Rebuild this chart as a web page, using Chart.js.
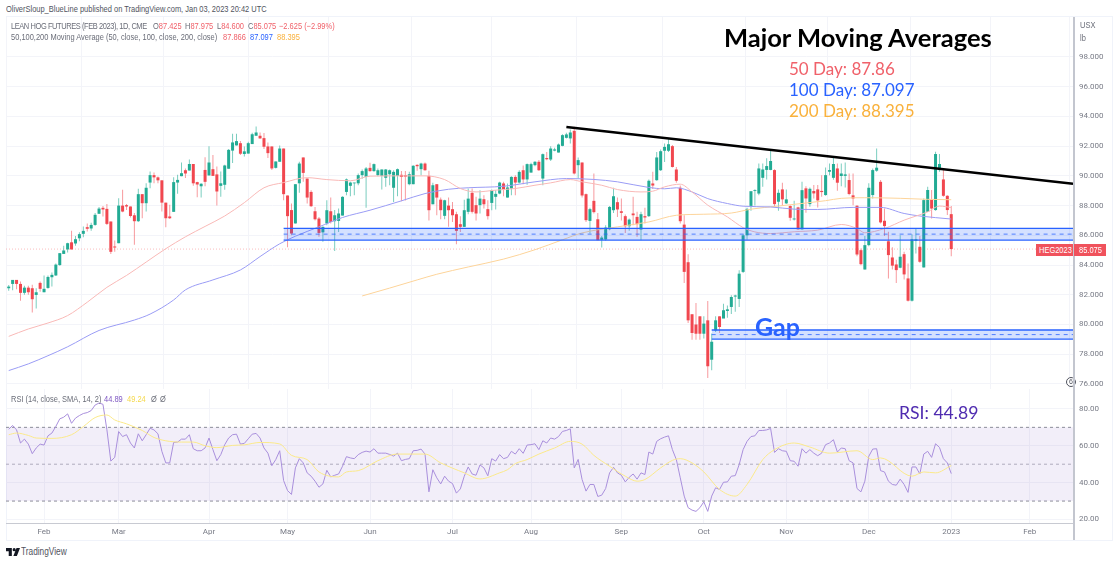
<!DOCTYPE html>
<html>
<head>
<meta charset="utf-8">
<script src="https://cdn.jsdelivr.net/npm/chart.js@4/dist/chart.umd.js"></script>
<style>
  html, body { margin: 0; padding: 0; background: #fff; }
  body { width: 1120px; height: 563px; position: relative; overflow: hidden; font-family: "Liberation Sans", sans-serif; }
  canvas { position: absolute; display: block; }
  .t { position: absolute; white-space: nowrap; line-height: 1; }
  .hdr { font-size: 9px; color: #6a6d78; transform: scaleX(0.83); transform-origin: left center; }
  .ann { font-family: Lato, sans-serif; }
  .red { color: #f0616a; } .blue { color: #2962ff; } .org { color: #f9b13c; }
  .frame { position: absolute; background: #f0f3fa; }
  .tag { position: absolute; background: #f0525c; top: 244px; height: 12px; }
</style>
</head>
<body>
<div class="frame" style="left:6px;top:16px;width:1107px;height:1px"></div>
<div class="frame" style="left:6px;top:540px;width:1107px;height:1px"></div>
<div class="frame" style="left:6px;top:16px;width:1px;height:525px"></div>
<div class="frame" style="left:1112px;top:16px;width:1px;height:525px"></div>
<canvas id="priceChart" width="1106" height="372" style="left:6px;top:17px"></canvas>
<canvas id="rsiChart" width="1106" height="151" style="left:6px;top:389px"></canvas>
<div class="t" style="left:1066px;top:377px;width:8px;height:8px;border:1px solid #50535e;border-radius:50%;background:#fff;color:#50535e;font-size:7px;line-height:8px;text-align:center">6</div>
<div style="position:absolute;left:1073px;top:17px;width:1.5px;height:523px;background:#c3c6cf"></div>

<div class="t hdr" style="left:6px;top:5px;color:#50535e">OliverSloup_BlueLine published on TradingView.com, Jan 03, 2023 20:42 UTC</div>
<div class="t hdr" style="left:11px;top:22px;letter-spacing:-0.5px">LEAN HOG FUTURES (FEB 2023), 1D, CME</div>
<div class="t hdr" style="left:153px;top:22px">O<span class="red">87.425</span></div>
<div class="t hdr" style="left:185px;top:22px">H<span class="red">87.975</span></div>
<div class="t hdr" style="left:217px;top:22px">L<span class="red">84.600</span></div>
<div class="t hdr" style="left:248px;top:22px">C<span class="red">85.075</span></div>
<div class="t hdr red" style="left:279px;top:22px">−2.625 (−2.99%)</div>
<div class="t hdr" style="left:11px;top:33px">50,100,200 Moving Average (50, close, 100, close, 200, close)</div>
<div class="t hdr red" style="left:223px;top:33px">87.866</div>
<div class="t hdr blue" style="left:250px;top:33px">87.097</div>
<div class="t hdr org" style="left:277px;top:33px">88.395</div>
<div class="t hdr" style="left:11px;top:395px">RSI (14, close, SMA, 14, 2)</div>
<div class="t hdr" style="left:104px;top:395px;color:#7e57c2">44.89</div>
<div class="t hdr" style="left:127px;top:395px;color:#f5d94e">49.24</div>
<div class="t hdr" style="left:151px;top:395px">Ø</div>
<div class="t hdr" style="left:160px;top:395px">Ø</div>
<div class="t hdr" style="left:1080px;top:21px">USX</div>
<div class="t hdr" style="left:1080px;top:34px">lb</div>

<div class="t ann" style="left:724px;top:25px;font-size:25.5px;font-weight:700;color:#000">Major Moving Averages</div>
<div class="t ann red" style="left:789px;top:60px;font-size:17px">50 Day: 87.86</div>
<div class="t ann blue" style="left:789px;top:81px;font-size:17px">100 Day: 87.097</div>
<div class="t ann org" style="left:789px;top:102px;font-size:17px">200 Day: 88.395</div>
<div class="t ann blue" style="left:755px;top:314px;font-size:25px;font-weight:700">Gap</div>
<div class="t ann" style="left:899px;top:404px;font-size:17.6px;color:#4f2bb0">RSI: 44.89</div>

<div class="tag" style="left:1036px;width:37px"></div>
<div class="tag" style="left:1074px;width:32px"></div>
<div class="t hdr" style="left:1039px;top:246px;color:#fff">HEG2023</div>
<div class="t hdr" style="left:1079px;top:246px;color:#fff">85.075</div>

<svg style="position:absolute;left:6px;top:548px" width="14" height="8" viewBox="0 0 36 20"><path fill="#131722" d="M0 0h15v20H7V8H0zM21 0a4 4 0 1 1 0 8 4 4 0 0 1 0-8M27 0h9l-8 20h-9z"/></svg>
<div class="t hdr" style="left:21px;top:547px;font-size:10px;color:#50535e">TradingView</div>

<script>
// Daily candles, bar 0 sits just after the left edge, bar 240 is Jan 03
const opens = [
  82.44,82.73,83.0,82.73,82.13,82.48,82.44,81.99,82.8,82.17,
  82.46,83.18,83.3,84.0,84.75,85.05,85.53,85.45,85.8,86.1,
  86.55,86.46,86.7,87.45,87.85,87.78,86.93,85.25,85.47,88.0,
  88.03,87.94,87.35,86.95,88.77,88.16,89.55,90.05,89.9,89.7,
  88.2,87.27,87.58,89.55,89.98,90.38,90.36,90.8,89.58,89.3,
  90.4,90.03,90.45,90.1,89.33,89.4,90.48,91.7,92.05,92.2,
  91.47,91.5,92.14,92.7,92.7,92.54,91.98,91.98,90.54,90.95,
  91.84,88.68,87.7,86.8,89.5,91.24,89.82,88.92,87.62,87.13,
  86.2,86.8,87.62,86.95,86.97,87.33,88.92,89.33,89.5,89.5,
  90.05,89.93,90.54,90.32,90.05,90.0,89.87,90.11,89.2,90.0,
  90.07,90.05,89.44,89.44,90.74,90.45,90.83,90.0,88.09,89.44,
  88.4,87.31,88.0,87.76,87.42,86.75,86.57,87.58,88.86,88.03,
  88.03,88.43,87.76,88.18,88.59,88.81,89.49,88.54,89.15,89.93,
  89.55,90.38,89.76,90.22,90.72,90.95,89.82,91.2,91.1,91.7,
  91.57,92.02,92.56,92.52,93.03,90.72,90.9,88.77,86.97,88.32,
  87.08,85.7,85.72,86.41,87.69,88.23,87.62,87.29,86.61,87.47,
  87.24,86.39,87.29,87.29,89.49,89.71,90.38,91.69,91.69,92.0,
  90.43,89.2,86.72,84.19,80.69,80.0,80.55,79.38,80.28,77.63,
  79.6,80.55,80.4,80.91,81.18,81.88,81.72,83.54,86.0,87.98,
  88.98,88.81,89.87,90.4,90.4,90.39,88.26,89.09,88.15,87.97,
  87.07,87.88,86.4,89.16,88.1,88.98,89.09,88.99,88.71,90.28,
  89.87,90.5,89.99,90.0,89.72,88.69,87.99,85.0,83.7,85.34,
  88.71,90.35,89.6,86.98,85.6,84.51,84.04,83.82,84.73,83.1,
  81.6,85.63,85.23,83.84,87.58,88.4,87.7,90.39,89.76,88.66,
  87.425
];
const highs = [
  82.65,83.0,83.0,82.9,82.6,82.6,82.67,82.44,82.9,83.3,
  83.3,83.5,84.1,84.8,85.3,85.5,86.3,85.96,86.2,86.6,
  86.8,86.85,87.5,87.9,87.98,88.1,86.93,85.65,88.5,89.06,
  88.1,87.94,87.5,89.13,88.77,89.5,90.3,90.23,89.96,89.7,
  88.2,88.05,89.9,90.07,90.9,90.5,91.1,90.8,89.6,89.5,
  91.26,92.0,91.4,90.63,90.3,90.75,91.8,92.83,92.83,92.34,
  91.98,92.3,92.9,93.33,92.92,92.88,92.25,91.98,90.97,92.05,
  91.84,88.68,88.14,89.44,90.95,91.24,89.82,89.04,87.9,87.24,
  86.6,88.36,88.54,87.7,87.8,88.63,89.82,89.6,89.53,90.16,
  90.43,90.6,90.88,90.83,90.5,90.43,90.47,90.43,90.38,90.5,
  90.32,90.32,90.27,90.72,90.79,90.88,90.9,90.34,89.53,89.44,
  88.54,88.4,88.54,88.25,87.58,87.29,88.4,89.15,89.15,88.59,
  89.04,88.7,88.36,89.08,89.04,89.6,89.6,89.49,89.98,90.05,
  90.38,90.7,90.83,90.88,90.99,91.06,91.5,91.6,92.0,91.9,
  92.18,92.8,92.9,93.12,93.3,91.24,90.9,88.81,87.85,90.16,
  87.51,85.95,86.68,87.98,89.2,88.54,88.47,87.4,87.13,88.59,
  87.58,87.58,87.85,89.76,90.27,91.6,91.77,92.18,92.5,92.07,
  90.6,89.36,87.35,84.73,80.69,81.45,80.55,80.55,81.58,79.4,
  80.55,80.55,81.4,81.27,81.97,82.0,83.65,86.07,87.85,88.05,
  89.1,90.83,90.84,91.18,91.78,90.44,89.09,89.54,89.09,88.02,
  88.33,87.92,89.6,89.31,89.22,89.38,89.38,90.05,90.57,90.84,
  91.33,90.84,90.84,90.9,90.16,90.16,88.03,85.12,85.95,89.5,
  90.5,91.85,89.72,87.8,86.24,85.2,84.35,86.0,84.89,84.1,
  86.08,86.47,85.95,88.48,89.27,89.05,91.63,91.47,90.44,88.7,
  87.975
];
const lows = [
  82.27,82.3,82.37,81.6,82.0,82.0,80.8,81.07,82.2,82.17,
  82.4,82.55,83.27,83.95,84.75,84.85,85.05,85.3,85.6,85.87,
  86.25,86.3,86.65,87.45,87.27,86.7,84.75,84.9,85.47,87.55,
  87.7,87.2,85.36,86.9,87.15,87.6,89.17,89.5,89.5,87.6,
  86.55,87.1,87.58,88.8,89.98,89.85,90.36,89.33,88.57,88.55,
  89.3,90.03,90.0,88.0,88.6,89.06,90.48,90.86,92.05,91.4,
  91.3,91.5,92.14,92.7,92.5,91.8,91.2,90.4,90.5,90.95,
  88.36,85.2,86.0,86.8,88.86,89.6,88.14,87.9,87.0,85.9,
  85.56,86.68,86.8,84.95,86.23,87.33,88.7,88.63,88.7,89.37,
  89.8,87.85,90.27,90.27,89.98,89.08,89.26,89.37,88.25,88.63,
  88.3,88.35,89.37,89.44,90.34,90.05,90.34,87.0,88.09,87.35,
  87.08,87.08,86.57,86.9,85.4,86.23,86.57,87.42,87.47,87.0,
  87.47,87.8,87.06,87.69,87.73,88.77,88.63,88.54,88.7,88.7,
  89.49,89.44,89.4,90.22,90.65,90.32,89.37,91.05,91.0,91.65,
  91.57,92.0,92.52,92.18,90.1,89.82,88.54,86.9,86.12,87.47,
  85.67,85.18,85.64,86.34,87.5,87.24,87.0,86.16,86.3,86.68,
  85.9,85.67,86.8,87.24,89.12,89.67,90.33,90.94,91.6,90.56,
  89.53,86.8,82.8,80.1,78.98,78.98,78.98,79.05,76.4,76.92,
  79.5,79.43,80.85,80.45,80.7,80.85,81.18,83.47,85.7,87.65,
  88.0,88.7,89.27,89.76,90.38,87.97,87.65,87.97,88.1,86.98,
  87.0,86.4,86.4,87.52,87.92,88.48,87.88,88.6,88.66,90.05,
  89.74,89.0,89.3,89.22,88.7,88.03,84.6,83.99,83.7,85.27,
  88.48,90.28,86.8,85.95,83.1,83.7,82.8,83.78,83.03,81.55,
  81.55,84.78,84.15,83.84,87.58,87.14,87.65,90.28,88.6,87.36,
  84.6
];
const closes = [
  82.55,83.0,82.73,82.13,82.48,82.17,81.7,82.17,82.4,82.4,
  83.2,83.34,84.03,84.8,84.98,85.47,85.05,85.74,86.08,86.3,
  86.44,86.7,87.38,87.8,87.74,86.77,84.89,85.18,88.0,87.6,
  87.94,87.3,86.95,88.77,88.16,89.2,90.05,89.9,89.7,88.2,
  87.15,87.15,89.58,89.73,90.18,90.16,90.8,89.5,89.42,89.47,
  89.6,90.9,90.0,88.95,89.5,90.7,91.75,92.25,92.34,91.49,
  91.65,92.2,92.8,92.92,92.52,91.96,91.53,90.5,90.97,91.84,
  88.77,87.29,86.12,89.44,90.83,90.2,88.54,87.96,87.08,86.16,
  86.57,87.69,86.9,87.35,87.47,88.59,89.76,89.55,89.55,90.05,
  90.32,90.5,90.32,90.79,90.38,90.43,90.43,90.38,90.27,90.45,
  89.93,89.95,90.11,90.68,90.65,90.83,90.38,87.69,89.37,88.54,
  87.69,88.36,87.69,87.35,86.3,86.57,87.69,88.47,87.58,87.47,
  88.47,88.09,87.29,89.04,88.79,89.55,89.08,89.22,89.93,89.55,
  90.27,89.76,90.79,90.79,90.95,90.38,91.46,91.12,91.84,91.78,
  92.11,92.74,92.79,92.92,90.16,91.06,88.68,87.02,87.76,87.56,
  85.67,85.85,86.52,87.91,88.63,87.74,87.51,86.61,87.06,87.35,
  86.75,87.42,87.2,89.67,89.35,91.24,91.66,91.95,92.13,90.6,
  89.67,86.95,83.54,80.28,79.43,79.38,79.38,80.06,77.19,78.84,
  80.28,79.83,80.96,81.02,81.85,81.95,83.42,86.0,87.78,88.97,
  89.04,90.5,90.43,90.66,91.0,88.1,88.86,88.42,88.42,87.18,
  87.13,86.4,89.04,88.48,89.13,88.82,88.35,88.91,90.05,90.39,
  90.8,89.54,90.16,90.1,88.78,88.48,84.71,84.06,85.34,89.2,
  90.39,90.55,86.87,86.62,84.67,83.96,83.66,84.56,83.37,81.6,
  85.74,85.74,84.22,88.37,89.05,87.8,91.47,90.8,88.66,87.7,
  85.075
];

// Moving averages at the listed bars
const ma50Bars = [0,5,10,15,20,25,30,35,40,45,50,55,60,65,70,76,81,87,92,100,106,111,115,119,124,129,134,138,143,146,151,155,161,164,167,171,174,178,183,187,190,194,200,206,212,216,218,223,228,234,237,240];
const ma50Vals = [79.2,79.7,80.1,80.6,81.5,82.5,83.3,84.2,85.1,85.9,86.6,87.3,88.2,89.2,89.55,89.88,89.75,89.67,89.98,90.0,90.0,89.75,89.15,88.92,89.04,89.15,89.37,89.53,89.75,89.6,89.37,89.08,88.92,88.97,89.26,89.44,88.92,88.03,87.24,86.52,86.23,86.12,86.24,86.35,86.73,86.46,86.17,86.46,87.02,87.58,87.97,87.866];
const ma100Bars = [0,5,10,15,23,32,36,42,45,52,59,64,69,73,79,85,92,100,106,112,117,126,134,142,149,155,163,167,170,174,178,183,187,194,200,206,215,222,228,232,240];
const ma100Vals = [76.9,77.35,77.9,78.5,79.6,80.3,80.7,81.65,82.33,83.0,83.67,84.57,85.43,85.94,86.57,87.2,87.69,88.32,88.81,89.1,89.2,89.3,89.6,89.82,89.76,89.6,89.22,89.13,89.2,88.92,88.47,88.14,87.96,87.91,87.76,87.74,87.88,87.88,87.47,87.3,87.097];
const ma200Bars = [90,97,104,109,117,126,134,141,146,155,163,170,177,184,189,196,208,212,218,227,234,240];
const ma200Vals = [81.92,82.45,83.0,83.38,83.87,84.4,85.03,85.7,86.16,86.57,86.9,87.35,87.42,87.5,87.76,87.97,88.33,88.49,88.53,88.49,88.42,88.395];

// Drawn levels: top, middle, bottom of each zone, plus the trend line ends
const supportBars = [70, 271];
const supportLevels = [86.47, 86.08, 85.68];
const gapBars = [179, 271];
const gapLevels = [79.63, 79.32, 79.02];
const trendBars = [142, 271];
const trendVals = [93.29, 89.47];
const lastPrice = 85.075;

// RSI, one value per bar
const rsiVals = [
  69,71,68.6,61.5,63.6,60.9,55.7,58.8,60.9,60.4,
  65.4,66.9,70.5,74.6,75.5,77.3,72.2,75,76.4,77.5,
  78,79.1,82.1,83.2,82.5,68.7,51.7,53.7,67.7,65,
  66,61.5,58.8,66.5,62.7,66,69.5,68.6,66.5,57,
  50.7,50.7,61.8,62,63.6,63.6,66,58.4,57.3,57.3,
  58.8,64.2,57.9,51.9,55.2,60.6,64.2,66,66.3,60.9,
  61.3,63.8,66.3,66.7,64.2,58.8,56,49.2,52.5,57.3,
  41.1,35.7,33.6,48,53,50.7,45.3,43.5,40.8,37.5,
  39.3,46.7,43.1,44,44.7,48.9,54.1,53.4,53,55.2,
  56.4,57.1,56.6,58.4,56,56,56,55.3,54.4,56,
  51.9,52.6,53,57.3,57.5,58.2,55.5,35,47,42.6,
  39.3,43.5,40.8,39.5,34.3,36.6,43.5,48.5,44.7,44,
  49.6,48,43.7,53,51.7,55.2,53,53.7,57,55.5,
  58.4,55.9,60.4,60.6,61.1,57.9,62.7,61.5,64.2,63.6,
  65,67.8,68.3,69.2,48,52.6,41.7,35.4,39,39,
  32.5,33.2,36.8,45.3,48.3,45.3,44,40.4,42.9,44.7,
  41.9,45.3,44.4,56.6,55.5,62.4,63.8,64.7,65.4,57.9,
  52.5,42.6,32.7,26.4,25.1,24.4,26.4,29.6,24.4,32.7,
  37.2,36.3,40.2,40.4,43.5,43.8,49.8,57.9,62.4,65,
  65.4,68.3,68.3,68.6,69.4,56.4,58.4,57.3,57,51.9,
  51.6,48.9,58.4,56,57.9,56,54.6,56,60.6,61.5,
  63.3,56.6,58.8,58.4,51.9,50.7,36.8,35,40.8,54.3,
  58.2,58.4,46.5,45.8,40.8,39,38.6,41.9,39,34.7,
  48.5,48.5,44.7,55.5,57,53.7,61.1,59.1,53,50.7,
  44.89
];
const rsiMaBars = [0,2,5,7,11,16,19,22,25,27,30,34,37,40,44,47,50,53,57,60,64,69,72,76,79,84,86,89,94,99,106,110,116,120,125,127,129,132,135,139,143,146,149,153,157,160,162,166,169,171,174,177,181,185,188,192,195,200,204,209,216,220,222,230,233,236,240];
const rsiMaVals = [66,66.9,65.6,64.2,64,66,70.4,75.3,76.7,74,71.9,68.3,64.5,62.7,62,62,60,59,60.2,60.5,61.8,61,54.8,52.5,45.8,43.1,45.8,46.5,51.9,55.5,55.5,50.7,45.3,42,45.3,47,50.3,52.5,55.5,58.8,62.4,60.9,54.8,48.9,43.5,40.8,41.7,48,52.1,53,50.7,45.8,36.3,32.7,39,52.5,57.9,61.5,59.3,56,57.3,52.5,53.4,43.5,45.8,45.3,49.24];

// Axes
const priceTicks = [98,96,94,92,90,88,86,84,82,80,78,76];
const rsiTicks = [80,60,40,20];
const rsiBands = [70,50,30];
const monthBars = [9,28,51,71,92,113,133,156,177,198,219,240,260];
const monthLabels = ['Feb','Mar','Apr','May','Jun','Jul','Aug','Sep','Oct','Nov','Dec','2023','Feb'];

const COLORS = {
  up: '#22ab94',
  down: '#f1474f',
  upWick: 'rgba(34,171,148,0.6)',
  downWick: 'rgba(241,71,79,0.55)',
  ma50: '#f9b9b7',
  ma100: '#9a9cf5',
  ma200: '#fdd49a',
  zone: '#2962ff',
  zoneFill: 'rgba(41,98,255,0.2)',
  grid: '#f3f4f9',
  text: '#787b86',
  rsi: '#a98fdc',
  rsiMa: '#fbe98a'
};
const FONT = { family: 'Roboto', size: 8 };
const X_MIN = -0.69, X_MAX = 271;

function pairs(xs, ys) {
  return xs.map((x, i) => ({ x: x, y: ys[i] }));
}

function lineSet(data, color, width, extra) {
  return Object.assign({
    type: 'line', data: data, borderColor: color, borderWidth: width,
    pointRadius: 0, tension: 0, fill: false
  }, extra || {});
}

function smoothSet(data, color, order) {
  return lineSet(data, color, 1, { cubicInterpolationMode: 'monotone', order: order });
}

function zoneSets(bars, levels) {
  const y = v => [v, v];
  return [
    lineSet(pairs(bars, y(levels[0])), COLORS.zone, 1.3, { fill: '+2', backgroundColor: COLORS.zoneFill, order: 1 }),
    lineSet(pairs(bars, y(levels[1])), COLORS.zone, 0.8, { borderDash: [4, 4], order: 1 }),
    lineSet(pairs(bars, y(levels[2])), COLORS.zone, 1.3, { order: 1 })
  ];
}

function noPadding(s) {
  s.paddingTop = 0; s.paddingBottom = 0; s.paddingLeft = 0; s.paddingRight = 0;
}

function xAxis(showLabels) {
  return {
    type: 'linear', min: X_MIN, max: X_MAX, offset: false,
    afterBuildTicks: s => { s.ticks = monthBars.map(v => ({ value: v })); },
    grid: { color: COLORS.grid, lineWidth: 1, drawTicks: false },
    border: showLabels ? { display: true, color: '#c8cad2', width: 1 } : { display: false },
    ticks: {
      display: showLabels, color: COLORS.text, font: FONT, autoSkip: false, maxRotation: 0, padding: 4,
      callback: (v, i) => monthLabels[i]
    },
    afterFit: s => { s.height = showLabels ? 17 : 0; noPadding(s); }
  };
}

function yAxis(min, max, list, digits) {
  return {
    position: 'right', min: min, max: max,
    afterBuildTicks: s => { s.ticks = list.map(v => ({ value: v })); },
    grid: { color: COLORS.grid, lineWidth: 1, drawTicks: false },
    border: { display: false },
    ticks: {
      color: COLORS.text, font: FONT, padding: 6,
      callback: v => v.toFixed(digits)
    },
    afterFit: s => { s.width = 39; noPadding(s); }
  };
}

const barIdx = closes.map((c, i) => i);
const isUp = barIdx.map(i => closes[i] >= opens[i]);

new Chart(document.getElementById('priceChart'), {
  type: 'bar',
  data: {
    datasets: [
      lineSet(pairs(trendBars, trendVals), '#000000', 2.4, { order: 0 }),
      ...zoneSets(supportBars, supportLevels),
      ...zoneSets(gapBars, gapLevels),
      lineSet(pairs([X_MIN, X_MAX], [lastPrice, lastPrice]), '#f7a9ab', 0.8, { borderDash: [1, 2], order: 6 }),
      smoothSet(pairs(ma50Bars, ma50Vals), COLORS.ma50, 2),
      smoothSet(pairs(ma100Bars, ma100Vals), COLORS.ma100, 2),
      smoothSet(pairs(ma200Bars, ma200Vals), COLORS.ma200, 2),
      {
        data: barIdx.map(i => ({ x: i, y: [opens[i], closes[i]] })),
        backgroundColor: isUp.map(u => u ? COLORS.up : COLORS.down),
        barThickness: 3, grouped: false, inflateAmount: 0, order: 3
      },
      {
        data: barIdx.map(i => ({ x: i, y: [lows[i], highs[i]] })),
        backgroundColor: isUp.map(u => u ? COLORS.upWick : COLORS.downWick),
        barThickness: 1, grouped: false, inflateAmount: 0, order: 4
      }
    ]
  },
  options: {
    responsive: false, animation: false, events: [],
    layout: { padding: 0 },
    plugins: { legend: { display: false }, tooltip: { enabled: false } },
    scales: { x: xAxis(false), y: yAxis(75.66, 100.69, priceTicks, 3) }
  }
});

new Chart(document.getElementById('rsiChart'), {
  type: 'line',
  data: {
    datasets: [
      lineSet(pairs([X_MIN, X_MAX], [rsiBands[0], rsiBands[0]]), '#8d8f99', 1, { borderDash: [3, 3], fill: { value: rsiBands[2] }, backgroundColor: 'rgba(126,87,194,0.1)', order: 3 }),
      lineSet(pairs([X_MIN, X_MAX], [rsiBands[1], rsiBands[1]]), '#b4b5bd', 1, { borderDash: [3, 3], order: 3 }),
      lineSet(pairs([X_MIN, X_MAX], [rsiBands[2], rsiBands[2]]), '#8d8f99', 1, { borderDash: [3, 3], order: 3 }),
      smoothSet(pairs(rsiMaBars, rsiMaVals), COLORS.rsiMa, 1),
      lineSet(pairs(barIdx, rsiVals), COLORS.rsi, 1, { order: 2 })
    ]
  },
  options: {
    responsive: false, animation: false, events: [],
    layout: { padding: 0 },
    plugins: { legend: { display: false }, tooltip: { enabled: false } },
    scales: { x: xAxis(true), y: yAxis(18.1, 90.8, rsiTicks, 2) }
  }
});
</script>
</body>
</html>
